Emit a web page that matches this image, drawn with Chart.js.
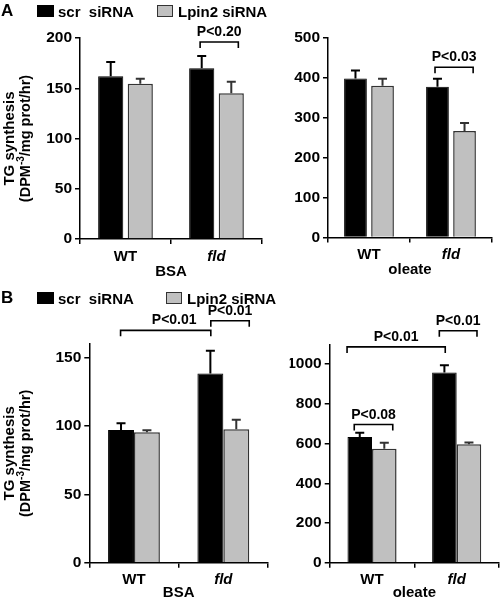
<!DOCTYPE html>
<html><head><meta charset="utf-8">
<script src="https://cdn.jsdelivr.net/npm/chart.js@4.4.0/dist/chart.umd.min.js"></script>
<style>
html,body{margin:0;padding:0;background:#fff;}
#wrap{position:relative;width:502px;height:602px;overflow:hidden;font-family:"Liberation Sans",Arial,sans-serif;font-weight:bold;color:#000;}
canvas{position:absolute;left:0;top:0;}
.t{position:absolute;white-space:pre;line-height:1;font-size:15px;}
.sw{position:absolute;box-sizing:border-box;}
.blk{background:#000;}
.gry{background:#c0c0c0;border:1.5px solid #333;}
</style></head><body>
<div id="wrap">
<canvas id="cA1" width="502" height="602"></canvas>
<canvas id="cA2" width="502" height="602"></canvas>
<canvas id="cB1" width="502" height="602"></canvas>
<canvas id="cB2" width="502" height="602"></canvas>

<div class="t" style="left:1px;top:2px;font-size:17px">A</div>
<div class="sw blk" style="left:37px;top:5px;width:17px;height:12px"></div>
<div class="t" style="left:58px;top:4px">scr  siRNA</div>
<div class="sw gry" style="left:157px;top:5px;width:16px;height:12px"></div>
<div class="t" style="left:178px;top:4px">Lpin2 siRNA</div>

<div class="t" style="left:1px;top:288.6px;font-size:17px">B</div>
<div class="sw blk" style="left:37px;top:292px;width:17px;height:12px"></div>
<div class="t" style="left:58px;top:290.6px">scr  siRNA</div>
<div class="sw gry" style="left:166px;top:292px;width:16px;height:12px"></div>
<div class="t" style="left:187px;top:290.6px">Lpin2 siRNA</div>
</div>
<script>
// ---------- data ----------
const groups = ['WT', 'fld'];
const seriesNames = ['scr  siRNA', 'Lpin2 siRNA'];

// Panel A, BSA
const aBsaScr = [162, 170];
const aBsaScrErr = [14, 12];
const aBsaLpin = [154.5, 145];
const aBsaLpinErr = [5, 11.5];
// Panel A, oleate
const aOleScr = [398, 377.5];
const aOleScrErr = [20, 20];
const aOleLpin = [380, 266.5];
const aOleLpinErr = [17, 20];
// Panel B, BSA
const bBsaScr = [97, 138.5];
const bBsaScrErr = [5, 16.5];
const bBsaLpin = [95.4, 97.6];
const bBsaLpinErr = [1.5, 7];
// Panel B, oleate
const bOleScr = [633, 958];
const bOleScrErr = [22, 37];
const bOleLpin = [574, 596];
const bOleLpinErr = [30, 10];

// significance brackets (x in category units, y in data units)
const aBsaBrFrom = [0.82];  const aBsaBrTo = [1.24];  const aBsaBrY = [196];  const aBsaBrLabel = ['P<0.20'];
const aOleBrFrom = [0.805]; const aOleBrTo = [1.27];  const aOleBrY = [426];  const aOleBrLabel = ['P<0.03'];
const bBsaBrFrom = [-0.15, 0.86]; const bBsaBrTo = [0.86, 1.29]; const bBsaBrY = [170, 177]; const bBsaBrLabel = ['P<0.01', 'P<0.01']; const bBsaBrText = [0.45, null];
const bOleBrFrom = [-0.21, -0.295, 0.795]; const bOleBrTo = [0.245, 0.865, 1.24]; const bOleBrY = [696, 1087, 1168]; const bOleBrLabel = ['P<0.08', 'P<0.01', 'P<0.01'];

// ---------- drawing ----------
const FAM = '"Liberation Sans", Arial, Helvetica, sans-serif';
Chart.defaults.color = '#000';
Chart.defaults.font.family = FAM;

const errorBarPlugin = {
  id: 'errorBars',
  afterDatasetsDraw(chart) {
    const ctx = chart.ctx, ys = chart.scales.y;
    chart.data.datasets.forEach((ds, i) => {
      const meta = chart.getDatasetMeta(i);
      ctx.save();
      ctx.strokeStyle = ds.errColor; ctx.lineWidth = 2;
      meta.data.forEach((bar, j) => {
        const top = ys.getPixelForValue(ds.data[j] + ds.errors[j]);
        ctx.beginPath();
        ctx.moveTo(bar.x, bar.y); ctx.lineTo(bar.x, top);
        ctx.moveTo(bar.x - 4.5, top); ctx.lineTo(bar.x + 4.5, top);
        ctx.stroke();
      });
      ctx.restore();
    });
  }
};

const bracketPlugin = {
  id: 'brackets',
  afterDraw(chart) {
    const o = chart.options.plugins.brackets;
    if (!o || !o.from) return;
    const ctx = chart.ctx, xs = chart.scales.x, ys = chart.scales.y;
    ctx.save();
    ctx.strokeStyle = '#000'; ctx.lineWidth = 1.6; ctx.fillStyle = '#000';
    ctx.font = 'bold 14px ' + FAM; ctx.textAlign = 'center'; ctx.textBaseline = 'alphabetic';
    o.from.forEach((f, k) => {
      const x1 = xs.getPixelForValue(f), x2 = xs.getPixelForValue(o.to[k]);
      const y = ys.getPixelForValue(o.y[k]);
      ctx.beginPath();
      ctx.moveTo(x1, y + 6); ctx.lineTo(x1, y); ctx.lineTo(x2, y); ctx.lineTo(x2, y + 6);
      ctx.stroke();
      const tx = (o.textAt && o.textAt[k] != null) ? xs.getPixelForValue(o.textAt[k]) : (x1 + x2) / 2;
      ctx.fillText(o.label[k], tx, y - 6);
    });
    ctx.restore();
  }
};

const yTitlePlugin = {
  id: 'yTitle',
  afterDraw(chart) {
    const o = chart.options.plugins.yTitle;
    if (!o || !o.show) return;
    const ctx = chart.ctx;
    const cy = (chart.chartArea.top + chart.chartArea.bottom) / 2;
    ctx.save();
    ctx.fillStyle = '#000';
    ctx.translate(10, cy); ctx.rotate(-Math.PI / 2);
    ctx.font = 'bold 15px ' + FAM; ctx.textAlign = 'center'; ctx.textBaseline = 'middle';
    ctx.fillText('TG synthesis', 0, 0);
    ctx.restore();
    // second line with superscript
    const parts = [['(DPM', false], ['-3', true], ['/mg prot/hr)', false]];
    ctx.save();
    ctx.fillStyle = '#000';
    ctx.translate(26, cy); ctx.rotate(-Math.PI / 2);
    ctx.textBaseline = 'middle'; ctx.textAlign = 'left';
    let total = 0;
    parts.forEach(p => { ctx.font = (p[1] ? 'bold 10px ' : 'bold 14.5px ') + FAM; total += ctx.measureText(p[0]).width; });
    let x = -total / 2;
    parts.forEach(p => {
      ctx.font = (p[1] ? 'bold 10px ' : 'bold 14.5px ') + FAM;
      ctx.fillText(p[0], x, p[1] ? -4.5 : 0);
      x += ctx.measureText(p[0]).width;
    });
    ctx.restore();
  }
};

function makePanel(id, area, yMax, yStep, scr, scrErr, lpin, lpinErr, xTitle, catPct, barPct, br, yTitle) {
  const yW = 40;
  new Chart(document.getElementById(id), {
    type: 'bar',
    data: {
      labels: groups,
      datasets: [
        { label: seriesNames[0], data: scr, errors: scrErr, errColor: '#000',
          backgroundColor: '#000', borderColor: '#000', borderWidth: 1,
          categoryPercentage: catPct, barPercentage: barPct },
        { label: seriesNames[1], data: lpin, errors: lpinErr, errColor: '#333',
          backgroundColor: '#c0c0c0', borderColor: '#333', borderWidth: 1.5,
          categoryPercentage: catPct, barPercentage: barPct }
      ]
    },
    options: {
      responsive: false, maintainAspectRatio: false, animation: false,
      events: [],
      layout: { padding: { left: area.l - yW, right: 502 - area.r, top: area.t, bottom: 602 - area.b - area.xh } },
      plugins: { legend: { display: false }, tooltip: { enabled: false }, brackets: br, yTitle: { show: yTitle } },
      scales: {
        x: {
          afterFit: s => { s.height = area.xh; },
          grid: { offset: true, drawOnChartArea: false, drawTicks: true, tickLength: 5, color: '#000', lineWidth: 1.5 },
          border: { display: true, color: '#000', width: 1.5 },
          ticks: { padding: 5, color: '#000',
            font: c => ({ family: FAM, size: 15, weight: 'bold', lineHeight: 1, style: c.index === 1 ? 'italic' : 'normal' }) },
          title: { display: true, text: xTitle, color: '#000', padding: 0,
            font: { family: FAM, size: 15, weight: 'bold', lineHeight: 1 } }
        },
        y: {
          min: 0, max: yMax,
          afterFit: s => { s.width = yW; },
          grid: { drawOnChartArea: false, drawTicks: true, tickLength: 5, color: '#000', lineWidth: 1.5 },
          border: { display: true, color: '#000', width: 1.5 },
          ticks: { stepSize: yStep, includeBounds: false, padding: 3, color: '#000',
            callback: v => String(v),
            font: { family: FAM, size: 15.5, weight: 'bold', lineHeight: 1 } }
        }
      }
    },
    plugins: [errorBarPlugin, bracketPlugin, yTitlePlugin]
  });
}

makePanel('cA1', { l: 80, r: 262, t: 38, b: 239, xh: 40.75 }, 200, 50,
  aBsaScr, aBsaScrErr, aBsaLpin, aBsaLpinErr, 'BSA', 0.65, 0.85,
  { from: aBsaBrFrom, to: aBsaBrTo, y: aBsaBrY, label: aBsaBrLabel }, true);
makePanel('cA2', { l: 328, r: 492, t: 37.7, b: 237.5, xh: 40.25 }, 500, 100,
  aOleScr, aOleScrErr, aOleLpin, aOleLpinErr, 'oleate', 0.66, 0.84,
  { from: aOleBrFrom, to: aOleBrTo, y: aOleBrY, label: aOleBrLabel }, false);
makePanel('cB1', { l: 89.3, r: 268, t: 344, b: 562.7, xh: 37.25 }, 160, 50,
  bBsaScr, bBsaScrErr, bBsaLpin, bBsaLpinErr, 'BSA', 0.58, 1.0,
  { from: bBsaBrFrom, to: bBsaBrTo, y: bBsaBrY, label: bBsaBrLabel, textAt: bBsaBrText }, true);
makePanel('cB2', { l: 329.7, r: 499, t: 344.3, b: 562.7, xh: 37.25 }, 1100, 200,
  bOleScr, bOleScrErr, bOleLpin, bOleLpinErr, 'oleate', 0.58, 1.0,
  { from: bOleBrFrom, to: bOleBrTo, y: bOleBrY, label: bOleBrLabel }, false);
</script>
</body></html>
